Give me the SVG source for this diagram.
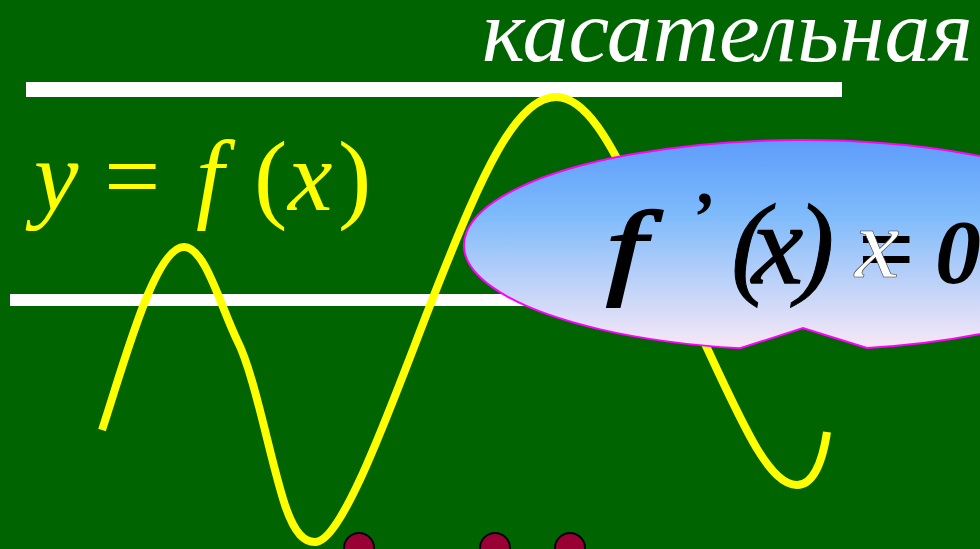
<svg xmlns="http://www.w3.org/2000/svg" width="980" height="549" viewBox="0 0 980 549">
<style>
.serif{font-family:"Liberation Serif","Times New Roman",serif;}
.yel{fill:#ffff00;font-style:italic;}
.blk{fill:#000000;}
.line{fill:#ffffff;}
.dot{fill:#990033;stroke:#000000;stroke-width:2;}
</style>
<defs>
<linearGradient id="bub" x1="0" y1="0" x2="0" y2="1">
<stop offset="0" stop-color="#5e9cfb"/>
<stop offset="0.35" stop-color="#7dbafb"/>
<stop offset="1" stop-color="#f8e8f6"/>
</linearGradient>
</defs>
<rect width="980" height="549" fill="#006400"/>
<g id="tangent-top"><rect class="line" x="26" y="82" width="816" height="15"/></g>
<g id="tangent-mid"><rect class="line" x="10" y="294" width="560" height="12"/></g>
<g id="curve">
<path d="M102,430 C125,360 155,247 184,247 C205,247 220,305 237,340 C255,375 270,460 285,505 C295,535 305,542 315,542 C345,542 400,380 440,280 C480,180 515,97 556,97 C585,97 610,140 640,205 L707,348 C745,430 770,485 797,485 C812,485 822,465 827,432" fill="none" stroke="#ffff00" stroke-width="8"/>
</g>
<g id="title"><text class="serif" x="482" y="61" font-size="88" font-style="italic" fill="#ffffff" textLength="491" lengthAdjust="spacingAndGlyphs">касательная</text></g>
<g id="func" class="serif">
<text class="yel" x="34" y="210" font-size="100">y</text>
<text class="serif" x="104" y="210" font-size="100" fill="#ffff00">=</text>
<text class="yel" x="196" y="210" font-size="100">f</text>
<text class="serif" x="254" y="210" font-size="100" fill="#ffff00">(</text>
<text class="yel" x="288" y="210" font-size="100">x</text>
<text class="serif" x="338" y="210" font-size="100" fill="#ffff00">)</text>
</g>
<g id="callout">
<path d="M740,348.3 A337,105 0 1 1 867,348 L803,328 Z" fill="url(#bub)" stroke="#ff00ff" stroke-width="2"/>
<text class="serif blk" transform="translate(606,284) scale(1.35,1)" x="0" y="0" font-size="106" font-style="italic" stroke="#000000" stroke-width="2.2">f</text>
<text class="serif blk" x="690" y="240" font-size="70" font-style="italic" font-weight="bold">’</text>
<text class="serif blk" x="731" y="283" font-size="115" font-style="italic" stroke="#000000" stroke-width="1">(</text>
<text class="serif blk" x="752" y="283" font-size="115" font-style="italic" stroke="#000000" stroke-width="1.5">x</text>
<text class="serif blk" x="796" y="283" font-size="115" font-style="italic" stroke="#000000" stroke-width="1">)</text>
<text class="serif blk" x="858" y="283" font-size="100" font-weight="bold">=</text>
<text class="serif" x="855" y="277" font-size="100" font-style="italic" fill="#ffffff" stroke="#333333" stroke-width="0.6">x</text>
<text class="serif blk" x="935" y="283" font-size="92" font-style="italic" font-weight="bold">0</text>
</g>
<g id="dots">
<circle class="dot" cx="359" cy="548" r="15"/>
<circle class="dot" cx="495" cy="548" r="15"/>
<circle class="dot" cx="570" cy="548" r="15"/>
</g>
</svg>
